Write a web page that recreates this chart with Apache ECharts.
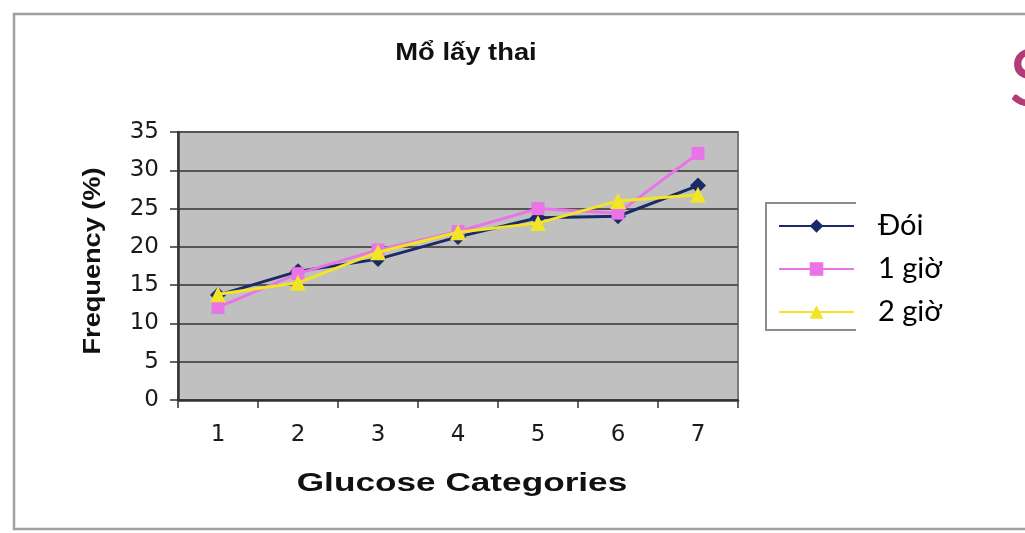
<!DOCTYPE html>
<html>
<head>
<meta charset="utf-8">
<script src="https://cdn.jsdelivr.net/npm/echarts@6/dist/echarts.min.js"></script>
<style>
  html, body { margin: 0; padding: 0; background: #ffffff; }
  #chart { width: 1025px; height: 533px; }
</style>
</head>
<body>
<div id="chart"></div>
<script>
// Glucose category on the x axis, frequency (%) per series
const categories = ['1', '2', '3', '4', '5', '6', '7'];
const seriesNames = ['Đói', '1 giờ', '2 giờ'];
const fasting = [13.7, 16.8, 18.4, 21.3, 23.8, 24.0, 28.0];
const oneHour = [12.1, 16.5, 19.6, 22.0, 25.0, 24.4, 32.2];
const twoHour = [13.8, 15.3, 19.3, 21.9, 23.1, 26.0, 26.8];
const yTicks = { min: 0, max: 35, interval: 5 };

const chartTitle = 'Mổ lấy thai';
const xTitle = 'Glucose Categories';
const yTitle = 'Frequency (%)';

const colors = ['#1b2a66', '#e874e8', '#f2e426'];
const symbols = ['diamond', 'rect', 'triangle'];
const symbolSizes = [16, 13, 16];
const seriesData = [fasting, oneHour, twoHour];

const chart = echarts.init(document.getElementById('chart'), null, { renderer: 'canvas' });

const legendTops = [202, 245, 288];

const option = {
  animation: false,
  backgroundColor: '#ffffff',
  grid: {
    left: 178, top: 132, right: 287, bottom: 133,
    show: true,
    backgroundColor: '#c0c0c0',
    borderColor: '#7a7a7a',
    borderWidth: 2
  },
  xAxis: {
    type: 'category',
    data: categories,
    boundaryGap: true,
    axisLine: { lineStyle: { color: '#333333', width: 2.5 } },
    axisTick: { show: true, length: 8, inside: false, lineStyle: { color: '#333333', width: 1.5 } },
    axisLabel: { color: '#1a1a1a', fontFamily: 'DejaVu Sans', fontSize: 23, margin: 24 },
    splitLine: { show: false }
  },
  yAxis: {
    type: 'value',
    min: yTicks.min, max: yTicks.max, interval: yTicks.interval,
    axisLine: { show: true, lineStyle: { color: '#333333', width: 2.5 } },
    axisTick: { show: true, length: 8, lineStyle: { color: '#333333', width: 1.5 } },
    axisLabel: { color: '#1a1a1a', fontFamily: 'DejaVu Sans', fontSize: 23, margin: 19 },
    splitLine: { show: true, lineStyle: { color: '#555555', width: 2 } }
  },
  legend: seriesNames.map((name, i) => ({
    data: [name],
    orient: 'vertical',
    left: 778,
    top: legendTops[i],
    padding: 0,
    itemWidth: 75,
    itemHeight: 17,
    selectedMode: false,
    textStyle: {
      color: '#000000',
      fontFamily: 'Lato',
      fontSize: 29,
      lineHeight: 30,
      padding: [0, 0, 18, 19]
    }
  })),
  series: seriesNames.map((name, i) => ({
    name: name,
    type: 'line',
    data: seriesData[i],
    symbol: symbols[i],
    symbolSize: symbolSizes[i],
    showAllSymbol: true,
    lineStyle: { color: colors[i], width: 3 },
    itemStyle: { color: colors[i] },
    z: 2 + i
  })),
  graphic: [
    // outer frame of the chart area
    {
      type: 'rect', z: -10, silent: true,
      shape: { x: 14, y: 14, width: 1030, height: 515 },
      style: { fill: 'none', stroke: '#a0a0a0', lineWidth: 2.5 }
    },
    // legend frame (left, top and bottom edges)
    {
      type: 'polyline', z: 1, silent: true,
      shape: { points: [[856, 203], [766, 203], [766, 330], [856, 330]] },
      style: { fill: 'none', stroke: '#8c8c8c', lineWidth: 2 }
    },
    {
      type: 'text', silent: true,
      x: 466, y: 54, scaleX: 1.19,
      style: {
        text: chartTitle, fill: '#111111',
        font: 'bold 23px "Liberation Sans", Arial, sans-serif',
        align: 'center', verticalAlign: 'middle'
      }
    },
    {
      type: 'text', silent: true,
      x: 462, y: 484, scaleX: 1.38,
      style: {
        text: xTitle, fill: '#111111',
        font: 'bold 25.5px "Liberation Sans", Arial, sans-serif',
        align: 'center', verticalAlign: 'middle'
      }
    },
    {
      type: 'text', silent: true,
      x: 94, y: 261, rotation: Math.PI / 2, scaleX: 1.18,
      style: {
        text: yTitle, fill: '#111111',
        font: 'bold 23px "Liberation Sans", Arial, sans-serif',
        align: 'center', verticalAlign: 'middle'
      }
    },
    // slide lettering clipped at the right edge
    {
      type: 'text', silent: true,
      x: 1009, y: 40,
      style: {
        text: 'S', fill: '#b23c78',
        font: '80px Lato, sans-serif',
        align: 'left', verticalAlign: 'top'
      }
    }
  ]
};

chart.setOption(option);
</script>
</body>
</html>
